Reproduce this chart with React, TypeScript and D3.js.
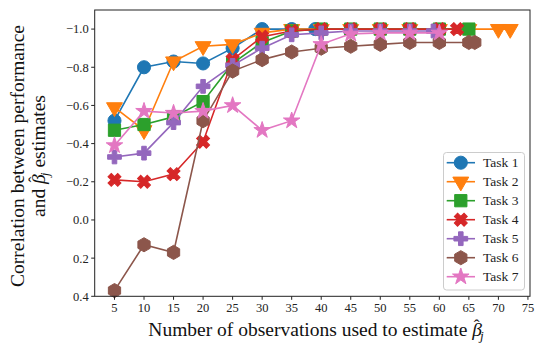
import * as d3 from 'd3';

const taskNames = ['Task 1', 'Task 2', 'Task 3', 'Task 4', 'Task 5', 'Task 6', 'Task 7'];
const taskColors = ['#1f77b4', '#ff7f0e', '#2ca02c', '#d62728', '#9467bd', '#8c564b', '#e377c2'];

const xTicks = [5, 10, 15, 20, 25, 30, 35, 40, 45, 50, 55, 60, 65, 70, 75];
const yTicks = [-1.0, -0.8, -0.6, -0.4, -0.2, 0.0, 0.2, 0.4];

const task1X = [5, 10, 15, 20, 25, 30, 35, 39];
const task1Y = [-0.52, -0.8, -0.83, -0.82, -0.9, -1.0, -1.0, -1.0];
const task2X = [5, 10, 15, 20, 25, 30, 35, 40, 45, 50, 55, 60, 65, 70, 72];
const task2Y = [-0.59, -0.47, -0.83, -0.91, -0.92, -0.98, -1.0, -1.0, -1.0, -1.0, -1.0, -1.0, -1.0, -1.0, -1.0];
const task3X = [5, 10, 15, 20, 25, 30, 35, 40, 45, 50, 55, 60, 65];
const task3Y = [-0.47, -0.5, -0.54, -0.62, -0.82, -0.93, -0.99, -1.0, -1.0, -1.0, -1.0, -1.0, -1.0];
const task4X = [5, 10, 15, 20, 25, 30, 35, 40, 45, 50, 55, 60, 63];
const task4Y = [-0.21, -0.2, -0.24, -0.41, -0.84, -0.96, -0.99, -1.0, -1.0, -1.0, -1.0, -1.0, -1.0];
const task5X = [5, 10, 15, 20, 25, 30, 35, 40, 45, 50, 55, 59];
const task5Y = [-0.33, -0.35, -0.51, -0.7, -0.81, -0.9, -0.97, -0.98, -0.99, -0.99, -0.99, -0.99];
const task6X = [5, 10, 15, 20, 25, 30, 35, 40, 45, 50, 55, 60, 65, 66];
const task6Y = [0.37, 0.13, 0.17, -0.52, -0.78, -0.84, -0.88, -0.9, -0.91, -0.92, -0.93, -0.93, -0.93, -0.93];
const task7X = [5, 10, 15, 20, 25, 30, 35, 40, 45, 50, 55, 60];
const task7Y = [-0.39, -0.57, -0.56, -0.57, -0.6, -0.47, -0.52, -0.92, -0.975, -0.98, -0.98, -0.98];

const seriesX = [task1X, task2X, task3X, task4X, task5X, task6X, task7X];
const seriesY = [task1Y, task2Y, task3Y, task4Y, task5Y, task6Y, task7Y];

const W = 535;
const H = 346;
const plot = { left: 94.7, right: 530, top: 10, bottom: 296.3 };

// hexagon with a vertex at the top, like matplotlib's 'h'
const hexagon = {
  draw(ctx: any, size: number) {
    const r = Math.sqrt((size * 2) / (3 * Math.sqrt(3)));
    for (let i = 0; i < 6; i++) {
      const a = -Math.PI / 2 + (i * Math.PI) / 3;
      const px = r * Math.cos(a);
      const py = r * Math.sin(a);
      if (i === 0) ctx.moveTo(px, py);
      else ctx.lineTo(px, py);
    }
    ctx.closePath();
  },
};

const markers = [
  { type: d3.symbolCircle, size: 135, rot: 0 },
  { type: d3.symbolTriangle, size: 110, rot: 180 },
  { type: d3.symbolSquare, size: 150, rot: 0 },
  { type: d3.symbolCross, size: 105, rot: 45 },
  { type: d3.symbolCross, size: 105, rot: 0 },
  { type: hexagon, size: 130, rot: 0 },
  { type: d3.symbolStar, size: 85, rot: 0 },
];

const fmt = (v: number) => (v < 0 ? '\u2212' : '') + Math.abs(v).toFixed(1);

// italic beta with a hat and a subscript j, inline in a text run
const BetaHat = ({ fs }: { fs: number }) => (
  <>
    <tspan fontStyle="italic">{'\u03B2'}</tspan>
    <tspan fontSize={fs * 0.9} dx={-fs * 0.42} dy={-fs * 0.28}>{'\u02C6'}</tspan>
    <tspan fontStyle="italic" fontSize={fs * 0.68} dx={fs * 0.02} dy={fs * 0.5}>j</tspan>
  </>
);

export default function App() {
  const x = d3.scaleLinear().domain([1.65, 75.35]).range([plot.left, plot.right]);
  const y = d3.scaleLinear().domain([0.4, -1.1]).range([plot.bottom, plot.top]);
  const line = d3.line<[number, number]>().x(d => x(d[0])).y(d => y(d[1]));

  const legend = { x: 443.5, y: 152.5, w: 81, h: 137.5 };
  const labFs = 19.5;

  return (
    <div style={{ position: 'absolute', left: 0, top: 0 }}>
      <svg width={W} height={H} style={{ display: 'block', background: '#fff' }} fontFamily="'Liberation Serif', serif">
        {seriesX.map((xs, i) => {
          const pts = xs.map((xv, j) => [xv, seriesY[i][j]] as [number, number]);
          const m = markers[i];
          const d = d3.symbol().type(m.type as any).size(m.size)();
          return (
            <g key={i}>
              <path d={line(pts) || ''} fill="none" stroke={taskColors[i]} strokeWidth={1.6} />
              {pts.map((p, j) => (
                <path
                  key={j}
                  d={d || ''}
                  transform={`translate(${x(p[0])},${y(p[1])}) rotate(${m.rot})`}
                  fill={taskColors[i]}
                  stroke={taskColors[i]}
                  strokeWidth={1}
                />
              ))}
            </g>
          );
        })}

        <rect x={plot.left} y={plot.top} width={plot.right - plot.left} height={plot.bottom - plot.top} fill="none" stroke="#222" strokeWidth={1} />

        {xTicks.map(t => (
          <g key={t} transform={`translate(${x(t)},${plot.bottom})`}>
            <line y2={3.5} stroke="#222" />
            <text y={16} textAnchor="middle" fontSize={12.5} fill="#222">{t}</text>
          </g>
        ))}
        {yTicks.map(t => (
          <g key={t} transform={`translate(${plot.left},${y(t)})`}>
            <line x2={-3.5} stroke="#222" />
            <text x={-6} dy="0.35em" textAnchor="end" fontSize={12.5} fill="#222">{fmt(t)}</text>
          </g>
        ))}

        <text x={316} y={336} textAnchor="middle" fontSize={labFs} fill="#111">
          Number of observations used to estimate <BetaHat fs={labFs} />
        </text>

        <g transform="translate(0,156) rotate(-90)">
          <text x={0} y={24} textAnchor="middle" fontSize={labFs} fill="#111">Correlation between performance</text>
          <text x={0} y={45} textAnchor="middle" fontSize={labFs} fill="#111">
            and <BetaHat fs={labFs} />
            <tspan dy={-labFs * 0.22}> estimates</tspan>
          </text>
        </g>

        <rect x={legend.x} y={legend.y} width={legend.w} height={legend.h} rx={3} fill="#fff" fillOpacity={0.8} stroke="#ccc" strokeWidth={1} />
        {taskNames.map((name, i) => {
          const cy = 162.7 + i * 19;
          const m = markers[i];
          const d = d3.symbol().type(m.type as any).size(m.size)();
          return (
            <g key={name}>
              <line x1={446.7} x2={475} y1={cy} y2={cy} stroke={taskColors[i]} strokeWidth={1.6} />
              <path d={d || ''} transform={`translate(460.8,${cy}) rotate(${m.rot})`} fill={taskColors[i]} stroke={taskColors[i]} />
              <text x={483} y={cy} dy="0.35em" fontSize={13.5} fill="#222">{name}</text>
            </g>
          );
        })}
      </svg>
    </div>
  );
}
